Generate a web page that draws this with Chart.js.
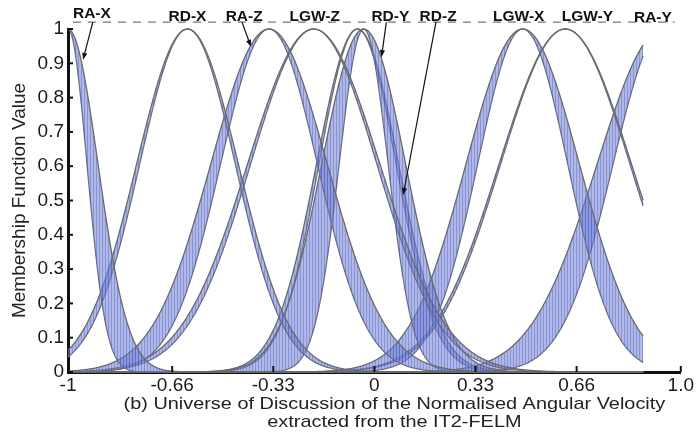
<!DOCTYPE html>
<html>
<head>
<meta charset="utf-8">
<script src="https://cdn.jsdelivr.net/npm/chart.js@4.4.1/dist/chart.umd.min.js"></script>
<style>
  html, body { margin: 0; padding: 0; background: #fff; }
</style>
</head>
<body>
<canvas id="chart" width="696" height="433"></canvas>
<script>
// Interval type-2 Gaussian sets: shared centre, upper and lower widths
const mfNames = ['RA-X', 'RD-X', 'RA-Z', 'LGW-Z', 'RD-Y', 'RD-Z', 'LGW-X', 'LGW-Y', 'RA-Y'];
const mfCentres = [-1.0, -0.61, -0.344, -0.198, -0.035, -0.055, 0.484, 0.623, 0.944];
const mfSigmaUpper = [0.098, 0.166, 0.190, 0.216, 0.137, 0.134, 0.185, 0.216, 0.217];
const mfSigmaLower = [0.062, 0.156, 0.158, 0.206, 0.080, 0.126, 0.147, 0.211, 0.165];

// universe of discussion actually sampled
const xDomain = [-1.0, 0.877];

const xTickValues = [-1, -0.66, -0.33, 0, 0.33, 0.66, 1];
const xTickLabels = ['-1', '-0.66', '-0.33', '0', '0.33', '0.66', '1.0'];
const yTickValues = [0, 0.1, 0.2, 0.3, 0.4, 0.5, 0.6, 0.7, 0.8, 0.9, 1];
const yTickLabels = ['0', '0.1', '0.2', '0.3', '0.4', '0.5', '0.6', '0.7', '0.8', '0.9', '1'];

// set names above the plot, arrows pointing at some of the sets
const labelX = [-0.922, -0.610, -0.425, -0.195, 0.052, 0.208, 0.471, 0.695, 0.909];
const labelLift = [4.5, 1.5, 1.5, 1.5, 1.5, 1.5, 1.5, 1.5, 0];
const arrowFrom = { 'RA-X': -0.919, 'RA-Z': -0.432, 'RD-Y': 0.039, 'RD-Z': 0.201 };
const arrowTo = { 'RA-X': [-0.951, 0.91], 'RA-Z': [-0.403, 0.948], 'RD-Y': [0.023, 0.918], 'RD-Z': [0.094, 0.516] };

const nSamples = 470;
const xs = [];
for (let i = 0; i <= nSamples; i++) {
  xs.push(xDomain[0] + (xDomain[1] - xDomain[0]) * i / nSamples);
}

function gaussianMF(c, s) {
  return xs.map(x => ({ x: x, y: Math.exp(-((x - c) * (x - c)) / (2 * s * s)) }));
}

// vertical hatch used to shade the footprint of uncertainty
function hatch() {
  const c = document.createElement('canvas');
  c.width = 3; c.height = 1;
  const g = c.getContext('2d');
  g.fillStyle = 'rgba(118,132,212,0.58)';
  g.fillRect(1, 0, 2, 1);
  g.fillStyle = 'rgba(80,95,195,0.68)';
  g.fillRect(0, 0, 1, 1);
  return g.createPattern(c, 'repeat');
}
const fou = hatch();
const edge = '#6a6a6a';

const datasets = [];
mfNames.forEach((name, i) => {
  datasets.push({
    label: name + ' upper',
    data: gaussianMF(mfCentres[i], mfSigmaUpper[i]),
    borderColor: edge,
    borderWidth: 1.3,
    backgroundColor: fou,
    fill: '+1',
    pointRadius: 0,
    clip: 4
  });
  datasets.push({
    label: name + ' lower',
    data: gaussianMF(mfCentres[i], mfSigmaLower[i]),
    borderColor: edge,
    borderWidth: 1.3,
    fill: false,
    pointRadius: 0,
    clip: 4
  });
});

function drawArrow(ctx, x0, y0, x1, y1) {
  const ang = Math.atan2(y1 - y0, x1 - x0);
  const len = 7, half = 2.6;
  ctx.beginPath();
  ctx.moveTo(x0, y0);
  ctx.lineTo(x1 - Math.cos(ang) * len * 0.8, y1 - Math.sin(ang) * len * 0.8);
  ctx.stroke();
  ctx.beginPath();
  ctx.moveTo(x1, y1);
  ctx.lineTo(x1 - Math.cos(ang) * len - Math.sin(ang) * half, y1 - Math.sin(ang) * len + Math.cos(ang) * half);
  ctx.lineTo(x1 - Math.cos(ang) * len + Math.sin(ang) * half, y1 - Math.sin(ang) * len - Math.cos(ang) * half);
  ctx.closePath();
  ctx.fill();
}

const decorations = {
  id: 'decorations',
  afterDraw(chart) {
    const { ctx, chartArea: a, scales: { x, y } } = chart;
    ctx.save();

    // tick marks point into the plot
    ctx.strokeStyle = '#111';
    ctx.lineWidth = 2;
    xTickValues.forEach(v => {
      const px = x.getPixelForValue(v);
      ctx.beginPath(); ctx.moveTo(px, a.bottom); ctx.lineTo(px, a.bottom - 6); ctx.stroke();
    });
    yTickValues.forEach(v => {
      const py = y.getPixelForValue(v);
      ctx.beginPath(); ctx.moveTo(a.left, py); ctx.lineTo(a.left + 5, py); ctx.stroke();
    });

    // dashed line just above full membership
    const dashY = y.getPixelForValue(1.02);
    ctx.strokeStyle = '#777';
    ctx.lineWidth = 1.4;
    ctx.setLineDash([8, 7]);
    ctx.beginPath();
    ctx.moveTo(x.getPixelForValue(-0.984), dashY);
    ctx.lineTo(x.getPixelForValue(0.98), dashY);
    ctx.stroke();
    ctx.setLineDash([]);

    // set names
    ctx.fillStyle = '#111';
    ctx.font = 'bold 15.5px "Liberation Sans", Arial, sans-serif';
    ctx.textAlign = 'center';
    ctx.textBaseline = 'alphabetic';
    mfNames.forEach((name, i) => {
      ctx.fillText(name, x.getPixelForValue(labelX[i]), dashY - labelLift[i]);
    });

    // arrows from names to their sets
    ctx.strokeStyle = '#111';
    ctx.lineWidth = 1.2;
    Object.keys(arrowTo).forEach(name => {
      const [tx, ty] = arrowTo[name];
      drawArrow(ctx, x.getPixelForValue(arrowFrom[name]), dashY,
        x.getPixelForValue(tx), y.getPixelForValue(ty));
    });

    // axis caption, two lines
    ctx.fillStyle = '#222';
    ctx.font = '17px "Liberation Sans", Arial, sans-serif';
    const cx = (a.left + a.right) / 2 + 20;
    const lines = ['(b) Universe of Discussion of the Normalised Angular Velocity', 'extracted from the IT2-FELM'];
    [a.bottom + 37, a.bottom + 54.5].forEach((by, k) => {
      ctx.save();
      ctx.translate(cx, by);
      ctx.scale(1.17, 1);
      ctx.fillText(lines[k], 0, 0);
      ctx.restore();
    });

    ctx.restore();
  }
};

const tickFont = { family: '"Liberation Sans", Arial, sans-serif', size: 19 };

new Chart(document.getElementById('chart'), {
  type: 'line',
  data: { datasets: datasets },
  options: {
    responsive: false,
    animation: false,
    devicePixelRatio: 1,
    layout: { padding: { left: 0, right: 12, top: 29, bottom: 0 } },
    plugins: {
      legend: { display: false },
      tooltip: { enabled: false }
    },
    scales: {
      x: {
        type: 'linear',
        min: -1,
        max: 1,
        afterBuildTicks: s => { s.ticks = xTickValues.map(v => ({ value: v })); },
        afterFit: s => { s.height = 61; },
        ticks: {
          autoSkip: false,
          maxRotation: 0,
          padding: 2,
          color: '#1a1a1a',
          font: tickFont,
          callback: (v, i) => xTickLabels[i]
        },
        grid: { display: false, drawTicks: false },
        border: { display: true, width: 3, color: '#111' }
      },
      y: {
        type: 'linear',
        min: 0,
        max: 1,
        afterBuildTicks: s => { s.ticks = yTickValues.map(v => ({ value: v })); },
        afterFit: s => { s.width = 68; },
        ticks: {
          padding: 4,
          color: '#1a1a1a',
          font: tickFont,
          callback: (v, i) => yTickLabels[i]
        },
        grid: { display: false, drawTicks: false },
        border: { display: true, width: 3, color: '#111' },
        title: {
          display: true,
          text: 'Membership Function Value',
          color: '#222',
          font: { family: '"Liberation Sans", Arial, sans-serif', size: 19 },
          padding: { top: 8, bottom: 0 }
        }
      }
    }
  },
  plugins: [decorations]
});
</script>
</body>
</html>
